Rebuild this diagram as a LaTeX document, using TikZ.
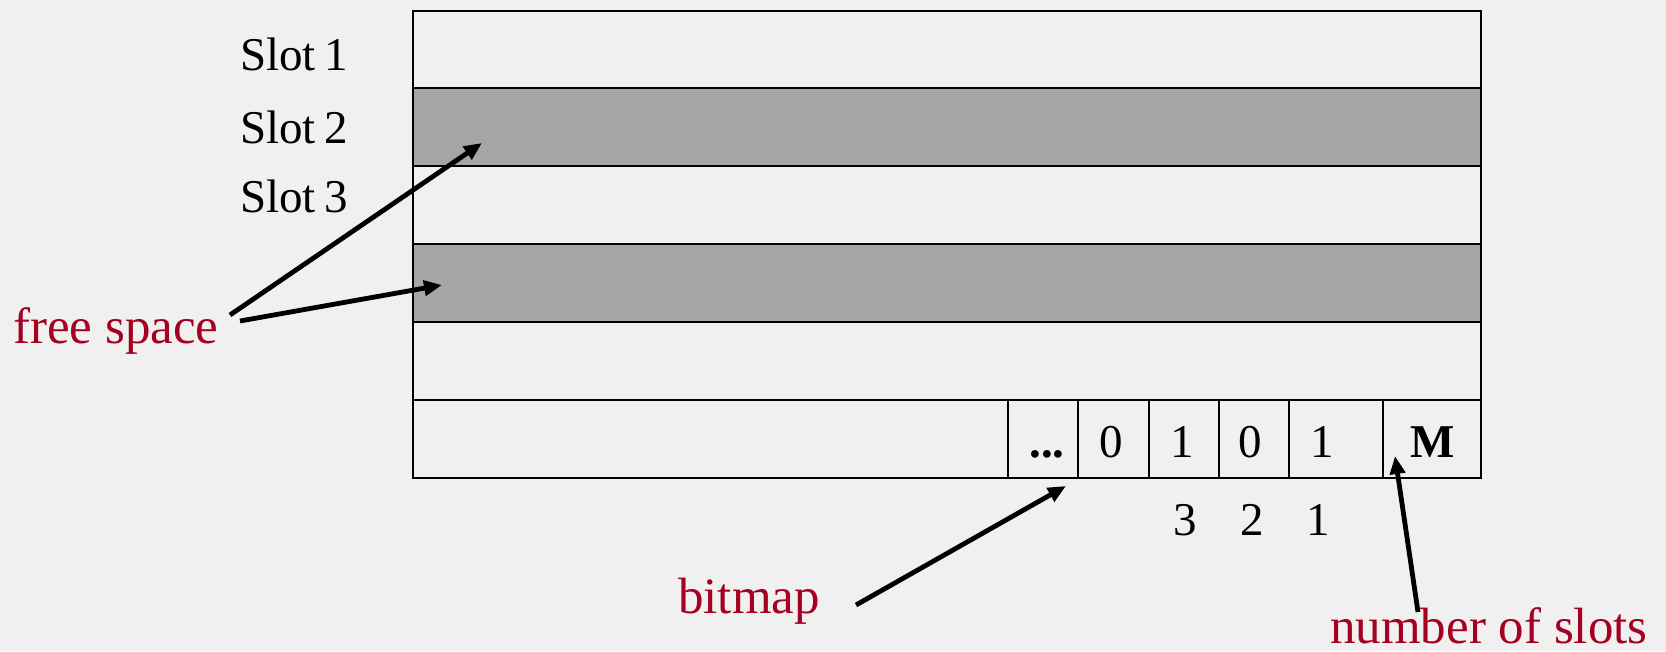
\documentclass[tikz,border=0pt]{standalone}
\usepackage{fontspec}
\setmainfont{Liberation Serif}
\usetikzlibrary{arrows.meta}
\definecolor{bg}{HTML}{F0F0F0}
\definecolor{freegray}{HTML}{A5A5A5}
\definecolor{lblred}{HTML}{A50021}
\begin{document}
\begin{tikzpicture}[x=1pt,y=-1pt,
  txt/.style={inner sep=0pt, anchor=base, font=\fontsize{47}{56}\selectfont},
  lbl/.style={inner sep=0pt, text=lblred, font=\fontsize{51}{60}\selectfont},
  arr/.style={line width=4.8pt, -{Triangle[length=18pt,width=15pt]}},
  gridline/.style={line width=2.2pt}]
\fill[bg] (0,0) rectangle (1666,651);
\useasboundingbox (0,0) rectangle (1666,651);
% shaded free rows
\fill[freegray] (413,88) rectangle (1481,166);
\fill[freegray] (413,244) rectangle (1481,322);
% page outline and rows
\draw[gridline] (413,11) rectangle (1481,478);
\foreach \yy in {88,166,244,322,400} \draw[gridline] (413,\yy) -- (1481,\yy);
\foreach \xx in {1008,1078,1149,1219,1289,1383} \draw[gridline] (\xx,400) -- (\xx,478);
% slot labels
\node[txt, anchor=base west] (s1) at (240,70) {Slot\hspace{0.18em}1};
\node[txt, anchor=base west] (s2) at (240,143) {Slot\hspace{0.18em}2};
\node[txt, anchor=base west] (s3) at (240,212) {Slot\hspace{0.18em}3};
% bitmap cells
\node[txt] (dots) at (1047,457) {\textbf{...}};
\node[txt] (b4) at (1111,457) {0};
\node[txt] (b3) at (1182,457) {1};
\node[txt] (b2) at (1250,457) {0};
\node[txt] (b1) at (1322,457) {1};
\node[txt] (m) at (1433,457) {\textbf{M}};
% indices
\node[txt] (i3) at (1185,535) {3};
\node[txt] (i2) at (1252,535) {2};
\node[txt] (i1) at (1318,535) {1};
% red labels
\node[lbl, anchor=base west] (free) at (13,343) {free space};
\node[lbl, anchor=base west] (bmp) at (678,613) {bitmap};
\node[lbl, anchor=base west] (nslots) at (1330,643) {number of slots};
% arrow endpoints
\coordinate (fa1) at (230,315);
\coordinate (fb1) at (482,143);
\coordinate (fa2) at (240,321);
\coordinate (fb2) at (442,285);
\coordinate (ba) at (856,605);
\coordinate (bb) at (1066,486);
\coordinate (na) at (1418,612);
\coordinate (nb) at (1395,456);
\draw[arr] (fa1) -- (fb1);
\draw[arr] (fa2) -- (fb2);
\draw[arr] (ba) -- (bb);
\draw[arr] (na) -- (nb);
\end{tikzpicture}
\end{document}
